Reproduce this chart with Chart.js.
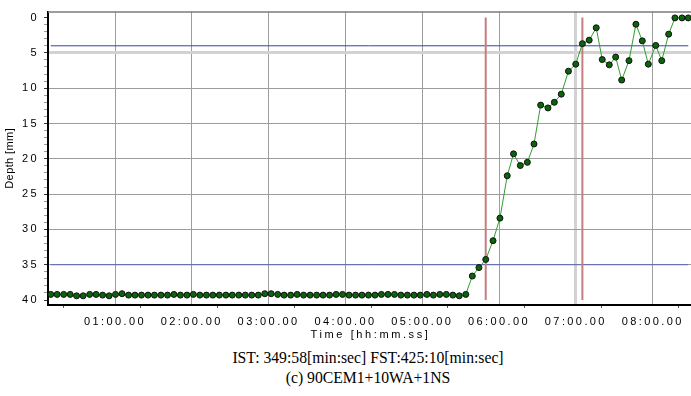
<!DOCTYPE html>
<html><head><meta charset="utf-8">
<script src="https://cdn.jsdelivr.net/npm/chart.js@4.4.0/dist/chart.umd.min.js"></script>
<style>
html,body{margin:0;padding:0;background:#fff;overflow:hidden;width:691px;height:396px;}
#wrap{position:absolute;left:0;top:0;width:693px;height:342px;}
.cap{position:absolute;left:0;width:736px;text-align:center;font-family:"Liberation Serif","Times New Roman",serif;font-size:15.7px;line-height:18px;color:#000;white-space:nowrap;}
</style></head><body>
<div id="wrap"><canvas id="c" width="693" height="342"></canvas></div>
<div class="cap" style="top:349px">IST: 349:58[min:sec] FST:425:10[min:sec]</div>
<div class="cap" style="top:369px">(c) 90CEM1+10WA+1NS</div>
<script>
// ---- data ----
const timeSec = [
  9.8,14.8,19.9,25.0,30.0,35.1,40.2,45.2,50.3,55.4,
  60.4,65.5,70.6,75.6,80.7,85.8,90.8,95.9,101.0,106.0,
  111.1,116.2,121.2,126.3,131.4,136.4,141.5,146.6,151.6,156.7,
  161.8,166.8,171.9,177.0,182.0,187.1,192.1,197.2,202.3,207.3,
  212.4,217.5,222.5,227.6,232.7,237.7,242.8,247.9,252.9,258.0,
  263.1,268.1,273.2,278.3,283.3,288.4,293.5,298.5,303.6,308.7,
  313.7,318.8,323.9,328.9,334.0,
  339.1,344.3,349.6,355.3,360.7,366.4,371.3,376.6,382.1,387.3,
  392.5,398.2,403.2,408.6,414.2,419.9,425.1,430.4,435.9,440.6,
  446.1,451.1,455.8,461.5,466.9,471.9,476.6,482.4,487.1,492.5,
  497.4,502.9,507.8
];
const depthMm = [
  39.2,39.2,39.2,39.2,39.4,39.4,39.2,39.2,39.3,39.4,
  39.2,39.1,39.3,39.3,39.3,39.3,39.3,39.3,39.3,39.2,
  39.3,39.3,39.2,39.3,39.3,39.3,39.3,39.3,39.3,39.3,
  39.3,39.3,39.3,39.1,39.1,39.2,39.3,39.3,39.2,39.3,
  39.3,39.3,39.3,39.3,39.2,39.2,39.3,39.3,39.3,39.3,
  39.3,39.2,39.2,39.2,39.3,39.3,39.3,39.3,39.2,39.3,
  39.2,39.2,39.3,39.4,39.2,
  36.6,35.4,34.25,31.6,28.4,22.4,19.3,20.95,20.5,17.9,
  12.4,12.8,12.0,10.85,7.6,6.6,3.7,3.2,1.45,5.95,
  6.7,5.6,8.85,6.1,0.95,3.3,6.6,3.95,6.1,2.35,
  0.05,0.05,0.05
];
const istSec = 349.58;      // IST 349:58
const fstSec = 425.10;      // FST 425:10
const upperLimitMm = 4;
const lowerLimitMm = 35;
const xTickSec = [60,120,180,240,300,360,420,480];
const xTickLabels = ['01:00.00','02:00.00','03:00.00','04:00.00','05:00.00','06:00.00','07:00.00','08:00.00'];
const xMinorSec = [20,80,140,200,260,320,380,440,500];
const yTickMm = [0,5,10,15,20,25,30,35,40];
const yTickLabels = ['0','5','10','15','20','25','30','35','40'];

const FONT = '"Liberation Sans", Arial, sans-serif';
const yMinor = [];
for (let v = 0; v <= 40; v++) yMinor.push(v);
const xAllTicks = xTickSec.concat(xMinorSec).sort((a, b) => a - b);
const isMajorX = v => xTickSec.indexOf(v) >= 0;

const spacingPlugin = {
  id: 'spacing',
  afterLayout(chart) {
    Object.values(chart.scales).forEach(s => {
      if (s._lsPatched) return;
      s._lsPatched = true;
      const dl = s.drawLabels.bind(s), dt = s.drawTitle.bind(s);
      s.drawLabels = function (a) { const c = chart.ctx; c.save(); c.letterSpacing = '2.4px'; dl(a); c.restore(); };
      s.drawTitle = function (a) { const c = chart.ctx; c.save(); c.letterSpacing = (s.id === 'x' ? '2.6px' : '0.4px'); dt(a); c.restore(); };
    });
  }
};
const framePlugin = {
  id: 'frame',
  afterDraw(chart) {
    const {ctx, chartArea: a} = chart;
    ctx.save();
    ctx.strokeStyle = '#7c7c7c';
    ctx.lineWidth = 1.5;
    ctx.beginPath();
    ctx.moveTo(a.left, a.top + 0.5);
    ctx.lineTo(a.right, a.top + 0.5);
    ctx.stroke();
    ctx.restore();
  }
};

const first = timeSec[0], last = timeSec[timeSec.length - 1];
new Chart(document.getElementById('c'), {
  type: 'line',
  data: {
    datasets: [
      {
        data: timeSec.map((t, i) => ({x: t, y: depthMm[i]})),
        borderColor: '#2f9e2f', borderWidth: 1,
        pointBackgroundColor: '#0b640b', pointBorderColor: '#111',
        pointBorderWidth: 1, pointRadius: 3, tension: 0, order: 0
      },
      { data: [{x: istSec, y: 0}, {x: istSec, y: 40}], borderColor: '#c47e7e', borderWidth: 2, pointRadius: 0, order: 1 },
      { data: [{x: fstSec, y: 0}, {x: fstSec, y: 40}], borderColor: '#c47e7e', borderWidth: 2, pointRadius: 0, order: 1 },
      { data: [{x: first, y: upperLimitMm}, {x: last, y: upperLimitMm}], borderColor: '#34449a', borderWidth: 1, pointRadius: 0, order: 2 },
      { data: [{x: first, y: lowerLimitMm}, {x: last, y: lowerLimitMm}], borderColor: '#5767b6', borderWidth: 1, pointRadius: 0, order: 2 }
    ]
  },
  options: {
    responsive: false,
    animation: false,
    events: [],
    layout: {autoPadding: false, padding: {top: 9, left: 0, right: 0, bottom: 0}},
    plugins: {legend: {display: false}, tooltip: {enabled: false}},
    scales: {
      x: {
        type: 'linear', min: 7.66, max: 511.5,
        afterBuildTicks: s => { s.ticks = xAllTicks.map(v => ({value: v})); },
        afterFit: s => { s.height = 37; },
        ticks: {
          autoSkip: false, maxRotation: 0, padding: 7, color: '#000',
          font: {family: FONT, size: 11},
          callback: v => isMajorX(v) ? xTickLabels[xTickSec.indexOf(v)] : ''
        },
        grid: {
          drawTicks: true, tickLength: 3,
          color: c => {
            const v = c.tick ? c.tick.value : -1;
            if (!isMajorX(v)) return 'rgba(0,0,0,0)';
            return v === 420 ? '#d2d2d2' : '#9c9c9c';
          },
          lineWidth: c => (c.tick && c.tick.value === 420) ? 3 : 1,
          tickColor: c => (c.tick && isMajorX(c.tick.value)) ? 'rgba(0,0,0,0)' : '#555',
          tickWidth: 1
        },
        border: {display: true, color: '#000', width: 2},
        title: {display: true, text: 'Time [hh:mm.ss]', color: '#000', font: {family: FONT, size: 11}, padding: 0}
      },
      y: {
        type: 'linear', reverse: true, min: -0.842, max: 40.70,
        afterBuildTicks: s => { s.ticks = yMinor.map(v => ({value: v})); },
        afterFit: s => { s.width = 48; },
        ticks: {
          autoSkip: false, padding: 5, color: '#000',
          font: {family: FONT, size: 11},
          callback: v => { const k = yTickMm.indexOf(v); return k >= 0 ? yTickLabels[k] : ''; }
        },
        grid: {
          tickLength: 4,
          color: c => {
            const v = c.tick ? c.tick.value : -1;
            if (v % 5 !== 0 || v === 0 || v === 40) return 'rgba(0,0,0,0)';
            return v === 5 ? '#d2d2d2' : '#9c9c9c';
          },
          lineWidth: c => (c.tick && c.tick.value === 5) ? 3 : 1,
          tickColor: c => (c.tick && c.tick.value % 5 === 0) ? '#333' : '#999',
          tickWidth: 1
        },
        border: {display: true, color: '#000', width: 2},
        title: {display: true, text: 'Depth [mm]', color: '#000', font: {family: FONT, size: 11}, padding: {top: 3, bottom: 0}}
      }
    }
  },
  plugins: [spacingPlugin, framePlugin]
});
</script>
</body></html>
